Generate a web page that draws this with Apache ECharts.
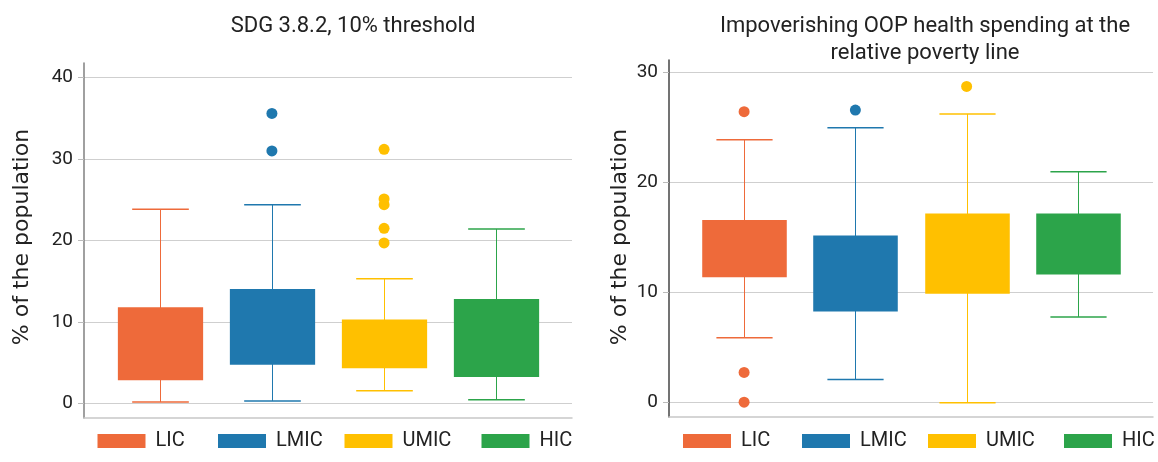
<!DOCTYPE html>
<html><head><meta charset="utf-8">
<script src="https://cdn.jsdelivr.net/npm/echarts@6/dist/echarts.min.js"></script>
<style>html,body{margin:0;padding:0;background:#fff}#c{width:1158px;height:462px}</style>
</head><body><div id="c"></div>
<script>
const categories = ['LIC', 'LMIC', 'UMIC', 'HIC'];
const colors = ['#EE6A3A', '#1F78AE', '#FFC000', '#2CA44A'];

// Left panel: SDG 3.8.2, 10% threshold
const sdgLow  = [0.15, 0.3, 1.55, 0.45];
const sdgQ1   = [2.85, 4.75, 4.3, 3.25];
const sdgQ3   = [11.8, 14.05, 10.3, 12.8];
const sdgHigh = [23.85, 24.4, 15.3, 21.4];
const sdgOutliers = [[], [31.0, 35.6], [19.7, 21.5, 24.4, 25.1, 31.2], []];
const sdgTicks = [0, 10, 20, 30, 40];

// Right panel: impoverishing OOP spending at relative poverty line
const impLow  = [5.9, 2.1, 0, 7.8];
const impQ1   = [11.4, 8.3, 9.9, 11.65];
const impQ3   = [16.6, 15.2, 17.2, 17.2];
const impHigh = [23.9, 25.0, 26.25, 21.0];
const impOutliers = [[0.05, 2.75, 26.45], [26.6], [28.75], []];
const impTicks = [0, 10, 20, 30];

const titleLeft = 'SDG 3.8.2, 10% threshold';
const titleRight1 = 'Impoverishing OOP health spending at the';
const titleRight2 = 'relative poverty line';
const yName = '% of the population';

function boxRender(params, api) {
  const x = api.value(0);
  const low = api.coord([x, api.value(1)]);
  const q1 = api.coord([x, api.value(2)]);
  const q3 = api.coord([x, api.value(3)]);
  const high = api.coord([x, api.value(4)]);
  const band = api.size([1, 0])[0];
  const bw = band * 0.76, cw = band * 0.505;
  const color = api.visual('color');
  const cx = Math.round(low[0]) + 0.5;
  return {
    type: 'group',
    children: [
      { type: 'line', shape: { x1: cx, y1: high[1], x2: cx, y2: low[1] }, style: { stroke: color, lineWidth: 1 } },
      { type: 'line', shape: { x1: cx - cw / 2, y1: high[1], x2: cx + cw / 2, y2: high[1] }, style: { stroke: color, lineWidth: 1.5 } },
      { type: 'line', shape: { x1: cx - cw / 2, y1: low[1], x2: cx + cw / 2, y2: low[1] }, style: { stroke: color, lineWidth: 1.5 } },
      { type: 'rect', shape: { x: cx - bw / 2, y: q3[1], width: bw, height: q1[1] - q3[1] }, style: { fill: color } }
    ]
  };
}

function panelSeries(idx, low, q1, q3, high, outliers) {
  const out = [];
  categories.forEach((c, i) => {
    out.push({
      type: 'custom', name: c, xAxisIndex: idx, yAxisIndex: idx,
      itemStyle: { color: colors[i] },
      renderItem: boxRender,
      encode: { x: 0, y: [1, 2, 3, 4] },
      data: [[i, low[i], q1[i], q3[i], high[i]]],
      silent: true
    });
    out.push({
      type: 'scatter', name: c, xAxisIndex: idx, yAxisIndex: idx,
      symbolSize: 11, itemStyle: { color: colors[i], opacity: 1 },
      data: outliers[i].map(v => [i, v]),
      silent: true
    });
  });
  return out;
}

function xAx(idx) {
  return {
    type: 'value', gridIndex: idx, min: -0.675, max: 3.675,
    axisLine: { show: true, onZero: false, lineStyle: { color: '#c8c8c8', width: 1.5 } },
    axisTick: { show: false }, axisLabel: { show: false }, splitLine: { show: false }
  };
}
function yAx(idx, min, max, ticks, lineColor) {
  return {
    type: 'value', gridIndex: idx, min: min, max: max,
    axisLine: { show: true, onZero: false, lineStyle: { color: lineColor, width: 1.5 } },
    axisTick: { show: true, length: 6, customValues: ticks, lineStyle: { color: '#bbbbbb' } },
    axisLabel: { customValues: ticks, fontSize: 19, fontFamily: 'Roboto', color: '#222', margin: 11 },
    splitLine: { show: true, lineStyle: { color: '#cfcfcf', width: 1 } }
  };
}

const legendPos = [[97.5, 218, 344.5, 481.5], [683, 802, 928, 1064]];
const legends = [];
legendPos.forEach(row => row.forEach((lx, i) => {
  legends.push({
    data: [categories[i]], left: lx, top: 431, padding: 0, itemGap: 0,
    icon: 'rect', itemWidth: 48, itemHeight: 14, selectedMode: false,
    textStyle: { fontSize: 20, fontFamily: 'Roboto', color: '#222', lineHeight: 20, padding: [0, 0, 0, 5] }
  });
}));

function txt(text, x, y, font, rot) {
  return {
    type: 'text', x: x, y: y, rotation: rot || 0, silent: true,
    style: { text: text, x: 0, y: 0, align: 'center', verticalAlign: 'middle', textAlign: 'center', textVerticalAlign: 'middle', font: font, fill: '#222' }
  };
}

const option = {
  animation: false,
  backgroundColor: '#fff',
  grid: [
    { left: 84, right: 1158 - 572, top: 63, bottom: 462 - 418 },
    { left: 669, right: 1158 - 1153, top: 60, bottom: 462 - 417 }
  ],
  xAxis: [xAx(0), xAx(1)],
  yAxis: [yAx(0, -1.8, 41.8, sdgTicks, '#808080'), yAx(1, -1.3, 31.15, impTicks, '#444444')],
  legend: legends,
  graphic: [
    txt(titleLeft, 353, 26, '22px Roboto'),
    txt(titleRight1, 925, 26, '22px Roboto'),
    txt(titleRight2, 925, 53, '22px Roboto'),
    txt(yName, 22, 237, '22px "DejaVu Sans"', Math.PI / 2),
    txt(yName, 620, 237, '22px "DejaVu Sans"', Math.PI / 2)
  ],
  series: [].concat(
    panelSeries(0, sdgLow, sdgQ1, sdgQ3, sdgHigh, sdgOutliers),
    panelSeries(1, impLow, impQ1, impQ3, impHigh, impOutliers)
  )
};
const chart = echarts.init(document.getElementById('c'), null, { renderer: 'canvas' });
chart.setOption(option);
</script>
</body></html>
